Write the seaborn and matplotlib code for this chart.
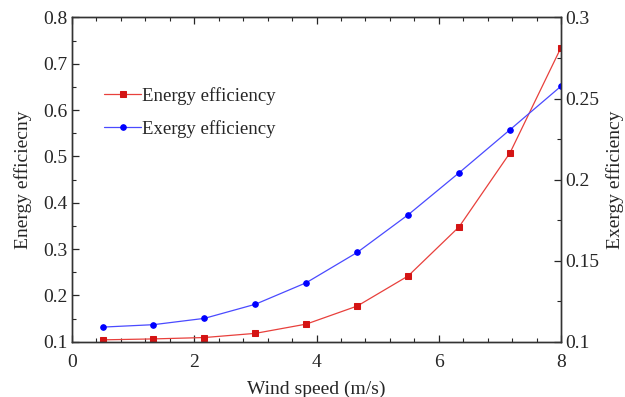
import numpy as np
import pandas as pd
import matplotlib
matplotlib.use("Agg")
import matplotlib.pyplot as plt
from matplotlib.ticker import MultipleLocator
import seaborn as sns

wind_speed = [0.5, 1.333, 2.167, 3.0, 3.833, 4.667, 5.5, 6.333, 7.167, 8.0]
energy_eff = [0.104, 0.106, 0.109, 0.118, 0.138, 0.177, 0.242, 0.348, 0.508, 0.735]
exergy_eff = [0.109, 0.1105, 0.1144, 0.1231, 0.1364, 0.1551, 0.1783, 0.2042, 0.2308, 0.2576]

sns.set_theme(style="ticks")
plt.rcParams["font.family"] = ["Liberation Serif", "DejaVu Serif"]
plt.rcParams["mathtext.fontset"] = "stix"

df = pd.DataFrame({"ws": wind_speed, "energy": energy_eff, "exergy": exergy_eff})

fig = plt.figure(figsize=(6.25, 3.97), dpi=100)
ax = fig.add_axes([0.1152, 0.1393, 0.7824, 0.8167])
ax2 = ax.twinx()

red_line, red_mark = "#e8403c", "#d41414"
blue_line, blue_mark = "#4a4aff", "#0000ff"

sns.lineplot(data=df, x="ws", y="energy", ax=ax, color=red_line, lw=0.9,
             marker="s", markersize=5, markerfacecolor=red_mark,
             markeredgecolor=red_mark, label="Energy efficiency", legend=False)
sns.lineplot(data=df, x="ws", y="exergy", ax=ax2, color=blue_line, lw=0.9,
             marker="o", markersize=4, markerfacecolor=blue_mark,
             markeredgecolor=blue_mark, label="Exergy efficiency", legend=False)

ax.set_xlim(0, 8)
ax.set_ylim(0.1, 0.8)
ax2.set_ylim(0.1, 0.3)

ax.xaxis.set_major_locator(MultipleLocator(2))
ax.xaxis.set_minor_locator(MultipleLocator(0.4))
ax.yaxis.set_major_locator(MultipleLocator(0.1))
ax.yaxis.set_minor_locator(MultipleLocator(0.05))
ax2.yaxis.set_major_locator(MultipleLocator(0.05))
ax2.yaxis.set_minor_locator(MultipleLocator(0.025))

fs = 14
ax.set_xticklabels([f"{int(v)}" for v in ax.get_xticks()])
ax.set_yticklabels([f"{v:.1f}" for v in ax.get_yticks()])
ax2.set_yticklabels([f"{v:g}" for v in ax2.get_yticks()])

ax.tick_params(axis="x", which="both", direction="in", top=True, labelsize=fs, pad=9)
ax.tick_params(axis="y", which="both", direction="in", right=False, labelsize=fs, pad=3)
ax.tick_params(which="major", length=5, width=0.9)
ax.tick_params(which="minor", length=3, width=0.8)
ax2.tick_params(axis="y", which="both", direction="in", labelsize=fs, pad=3)
ax2.tick_params(which="major", length=5, width=0.9)
ax2.tick_params(which="minor", length=3, width=0.8)

for a in (ax, ax2):
    for s in a.spines.values():
        s.set_linewidth(1.0)
        s.set_color("#333333")

ax.set_xlabel("Wind speed (m/s)", fontsize=14, labelpad=7)
ax.set_ylabel("Energy efficiecny", fontsize=14, labelpad=8)
ax2.set_ylabel("Exergy efficiency", fontsize=14, labelpad=5)

h1, l1 = ax.get_legend_handles_labels()
h2, l2 = ax2.get_legend_handles_labels()
ax.legend(h1 + h2, l1 + l2, loc="upper left", bbox_to_anchor=(0.065, 0.785),
          frameon=False, fontsize=13.5, handlelength=2.0, handletextpad=0.05,
          labelspacing=0.8, borderaxespad=0, borderpad=0)

fig.savefig("out.png", dpi=100)
